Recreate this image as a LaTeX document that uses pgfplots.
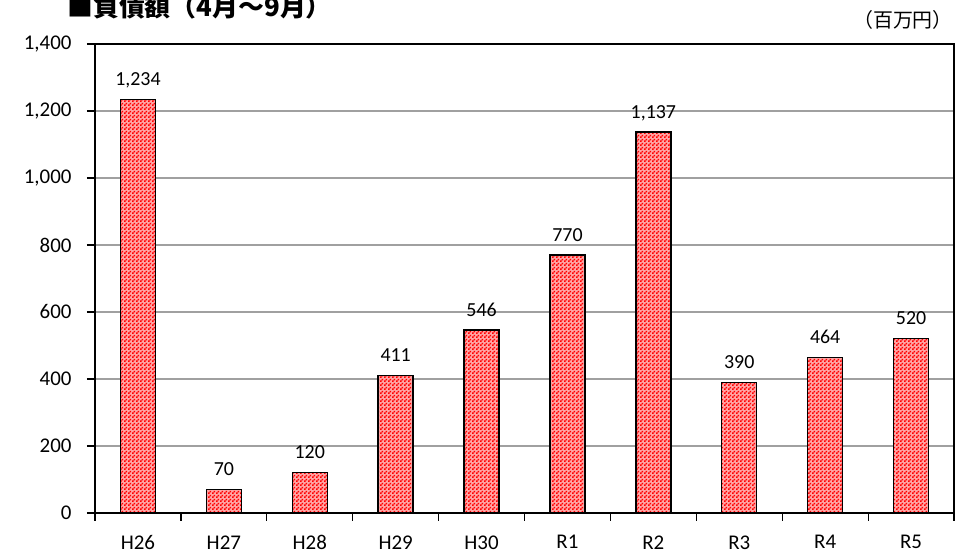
\documentclass[border=0pt]{standalone}
\usepackage{fontspec}
\setmainfont{Carlito}
\newfontfamily\cjk{Noto Sans CJK JP}
\usepackage{pgfplots}
\pgfplotsset{compat=1.18}
\usetikzlibrary{patterns}

\definecolor{barpink}{RGB}{255,165,165}
\definecolor{barred}{RGB}{255,0,0}
\definecolor{gridgray}{RGB}{160,160,160}

% small red/white checkerboard, as in the reference bars
\pgfdeclarepatternformonly{checker}{\pgfpointorigin}{\pgfqpoint{4bp}{4bp}}{\pgfqpoint{4bp}{4bp}}{%
  \pgfpathrectangle{\pgfpointorigin}{\pgfqpoint{2bp}{2bp}}%
  \pgfpathrectangle{\pgfqpoint{2bp}{2bp}}{\pgfqpoint{2bp}{2bp}}%
  \pgfusepath{fill}}

\begin{document}
\begin{tikzpicture}
\begin{axis}[
  at={(0,0)}, anchor=south west,
  scale only axis,
  width=859bp, height=469bp,
  xmin=-0.5, xmax=9.5,
  ymin=0, ymax=1400,
  ytick={0,200,...,1400},
  xtick={0,...,9},
  xticklabels={H26,H27,H28,H29,H30,R1,R2,R3,R4,R5},
  minor xtick={-0.5,0.5,...,9.5},
  xtick pos=bottom, ytick pos=left,
  tick align=outside,
  x tick style={draw=none},
  minor x tick style={draw=black, line width=1.2bp},
  minor tick length=8bp,
  major tick length=8bp,
  y tick style={black, line width=1.2bp},
  axis line style={black, line width=1.3bp},
  ymajorgrids,
  grid style={gridgray, line width=1.2bp},
  /pgf/number format/assume math mode=true,
  /pgf/number format/1000 sep={,},
  tick label style={font=\fontsize{21}{21}\selectfont},
  yticklabel style={xshift=-12bp},
  xticklabel style={yshift=-11bp},
  nodes near coords,
  nodes near coords style={font=\fontsize{20}{20}\selectfont, text depth=0pt, yshift=10bp,
    /pgf/number format/assume math mode=true, /pgf/number format/1000 sep={,}},
]
\addplot[ybar, bar width=35bp, fill=barpink, draw=black, line width=1.4bp,
  postaction={pattern=checker, pattern color=barred}] coordinates {
  (0,1234) (1,70) (2,120) (3,411) (4,546) (5,770) (6,1137) (7,390) (8,464) (9,520)
};
\end{axis}
\path[use as bounding box] (-95bp,-40bp) rectangle (869bp,513bp);
\node[anchor=base west, inner sep=0pt, font=\cjk\bfseries\fontsize{26}{26}\selectfont] at (-28bp,496bp) {■負債額（4月～9月）};
\node[anchor=base east, inner sep=0pt, font=\cjk\fontsize{20}{20}\selectfont] at (858bp,485bp) {（百万円）};
\end{tikzpicture}
\end{document}
